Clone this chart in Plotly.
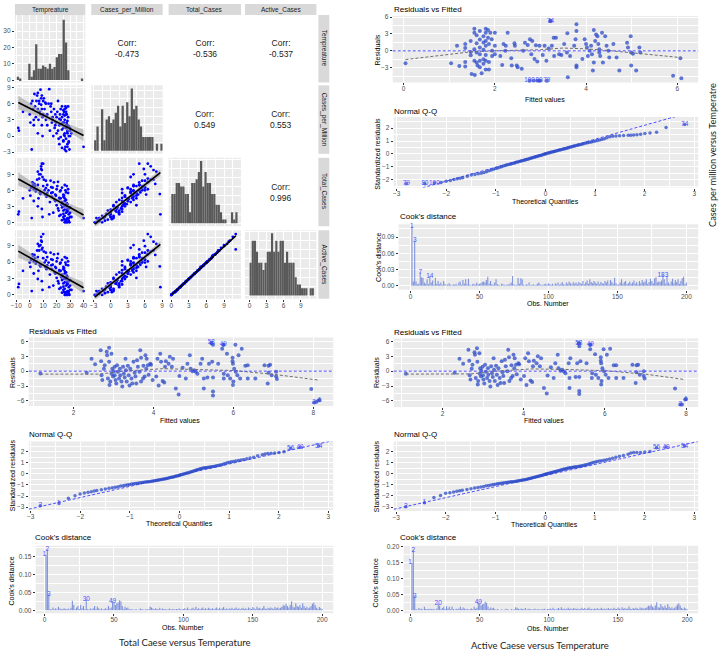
import numpy as np
import plotly.graph_objects as go

W, H = 723, 653
SANS = "Liberation Sans, Arial, sans-serif"
CAPF = "Lato, Open Sans, sans-serif"

# ---------------- pairs plot data ----------------
pair_vars = ["Tempreature", "Cases_per_Million", "Total_Cases", "Active_Cases"]
temperature = [
    2.0, 5.5, 6.0, 8.5, 9.0, 10.0, 7.0, 4.0, 3.5, 1.0,
    0.0, 2.5, 5.0, 7.5, 9.5, 11.0, 12.0, 6.5, 8.0, 10.5,
    -8.0, -8.5, -5.0, 0.5, 3.0, 6.0, 9.0, 13.0, 15.5, 17.0,
    14.0, 16.0, 18.0, 19.5, 20.0, 21.0, 22.5, 15.0, 17.5, 19.0,
    24.0, 25.5, 26.0, 27.0, 28.0, 29.0, 25.0, 26.5, 27.5, 28.5,
    24.5, 25.0, 26.0, 27.0, 28.0, 29.5, 30.0, 26.0, 27.0, 28.0,
    23.0, 24.0, 25.0, 26.5, 27.0, 28.0, 29.0, 30.0, 25.5, 26.0,
    27.0, 28.0, 29.0, 26.0, 25.0, 24.0, 23.5, 22.0, 28.0, 27.0,
    3.0, 4.5, 6.0, 7.0, 9.0, 10.0, 8.0, 8.5, 11.5, 12.5,
    18.5, 20.0, 21.5, 22.0, 23.0, 19.0, 17.0, 16.5, 20.5, 22.0,
    26.0, 27.5, 28.0, 29.0, 30.0, 25.0, 24.0, 28.5, 40.0, 31.0,
    1.5, 13.0, 14.5, 16.0, 12.0, 9.5, 21.0, 23.0, 25.5, 27.0]
cases_per_million = [
    6.5, 7.5, 8.0, 7.0, 5.0, 6.5, 6.0, 5.5, 7.8, 6.0,
    4.0, 5.0, 6.5, 4.5, 3.5, 5.0, 6.0, 3.0, 4.0, 7.0,
    1.0, 1.5, 4.5, 2.5, 3.0, 0.5, 2.0, 4.0, 5.5, 3.0,
    6.0, 4.5, 5.0, 2.5, 3.5, 6.5, 4.0, 1.0, 0.0, 2.0,
    5.5, 4.5, 3.0, 2.0, 1.0, 0.0, -1.0, -2.0, 4.0, 3.5,
    2.5, 1.5, 0.5, -0.5, -1.5, -2.5, 1.0, 5.0, 4.5, 2.0,
    3.0, 3.5, 4.0, 5.5, 1.5, 0.5, -1.0, 0.0, 2.5, -2.5,
    4.0, 2.8, 1.8, 0.0, -0.8, 1.2, 2.2, 3.2, -2.0, 5.2,
    2.0, 3.5, 5.0, 6.5, 7.5, 4.0, 8.6, 5.8, 6.2, 3.8,
    1.5, 0.5, -0.5, 2.0, 5.0, 4.0, 3.5, 2.5, 4.5, -1.5,
    3.8, 2.4, 0.8, -1.2, 1.4, 4.8, -2.2, 5.5, -2.0, 0.5,
    -2.5, 2.0, 8.7, 6.0, 3.0, 0.0, 1.0, -0.2, 0.2, -2.8]
total_cases = [
    7.5, 8.0, 9.5, 10.5, 11.0, 11.0, 9.0, 6.8, 7.2, 6.5,
    6.0, 7.0, 6.2, 5.5, 8.5, 6.0, 7.8, 4.5, 9.0, 8.0,
    2.0, 1.5, 4.5, 5.0, 4.0, 3.0, 2.5, 7.0, 7.8, 6.5,
    6.0, 5.5, 7.5, 5.0, 6.2, 7.6, 5.8, 3.8, 1.8, 4.0,
    6.5, 5.0, 4.0, 3.0, 2.5, 1.5, 1.0, 0.2, 6.8, 5.5,
    3.5, 2.2, 1.2, 0.5, 0.0, 0.0, 2.8, 7.0, 3.2, 2.0,
    4.5, 3.8, 4.8, 6.0, 1.8, 0.8, 0.3, 1.0, 3.0, 0.0,
    4.2, 3.4, 2.6, 2.4, 1.6, 2.8, 3.3, 4.4, 0.6, 5.6,
    6.2, 5.8, 7.0, 8.2, 9.8, 6.8, 5.3, 10.0, 5.2, 4.8,
    4.2, 3.2, 2.2, 4.6, 6.0, 5.2, 5.6, 4.8, 6.8, 1.2,
    4.5, 3.6, 2.2, 0.8, 1.8, 5.2, 0.4, 6.2, 0.8, 1.0,
    0.8, 5.5, 1.5, 6.6, 6.4, 1.0, 2.6, 1.4, 0.6, 0.0]
active_cases = [
    7.4, 8.1, 9.3, 10.6, 8.3, 11.1, 8.9, 6.7, 7.3, 6.4,
    5.9, 7.1, 6.1, 5.4, 8.6, 5.9, 7.7, 4.4, 9.1, 7.9,
    2.0, 1.4, 4.4, 5.1, 3.9, 2.9, 2.5, 6.9, 7.7, 6.4,
    5.9, 5.4, 7.4, 4.9, 6.1, 7.5, 5.7, 3.7, 1.7, 3.9,
    6.4, 4.9, 3.9, 2.9, 2.4, 1.4, 0.9, 0.2, 6.7, 5.4,
    3.4, 2.1, 1.1, 0.5, 0.0, 0.0, 2.7, 6.9, 3.1, 1.9,
    4.4, 3.7, 4.7, 5.9, 1.7, 0.7, 0.3, 0.9, 2.9, 0.0,
    4.1, 3.3, 2.5, 2.3, 1.5, 2.7, 3.2, 4.3, 0.5, 5.5,
    6.1, 5.7, 6.9, 8.1, 9.7, 6.7, 5.2, 9.9, 5.1, 4.7,
    4.1, 3.1, 2.1, 4.5, 5.9, 5.1, 5.5, 4.7, 6.7, 1.1,
    4.4, 3.5, 2.1, 0.7, 1.7, 5.1, 0.4, 6.1, 0.7, 0.9,
    0.7, 5.4, 1.4, 6.5, 6.3, 0.9, 2.5, 1.3, 0.5, 0.0]
corr_cells = [(0, 1), (0, 2), (0, 3), (1, 2), (1, 3), (2, 3)]
corr_labels = ["-0.473", "-0.536", "-0.537", "0.549", "0.553", "0.996"]

temp_bin_centers = [-8.75, -7.05, -5.35, -3.65, -1.95, -0.25, 1.45, 3.15, 4.85, 6.55,
                    8.25, 9.95, 11.65, 13.35, 15.05, 16.75, 18.45, 20.15, 21.85, 23.55,
                    25.25, 26.95, 28.65, 30.35, 32.05, 33.75, 35.45, 37.15, 38.85]
temp_bin_counts = [2, 1, 0, 0, 0, 10, 2, 6, 22, 7, 7, 9, 8, 7, 10, 7, 8, 14, 16, 16,
                   37, 23, 6, 0, 0, 0, 0, 0, 1]
cpm_bin_centers = [-2.7, -2.3, -1.9, -1.5, -1.1, -0.7, -0.3, 0.1, 0.5, 0.9, 1.3, 1.7, 2.1, 2.5, 2.9,
                   3.3, 3.7, 4.1, 4.5, 4.9, 5.3, 5.7, 6.1, 6.5, 6.9, 7.3, 7.7, 8.1, 8.5, 8.9]
cpm_bin_counts = [3, 7, 0, 12, 3, 9, 10, 8, 9, 11, 13, 7, 13, 8, 14, 10, 18, 12, 13, 9,
                  7, 4, 4, 4, 4, 4, 0, 2, 0, 2]
cases_bin_centers = [0.19, 0.57, 0.94, 1.32, 1.70, 2.07, 2.45, 2.83, 3.21, 3.58, 3.96, 4.34,
                     4.71, 5.09, 5.47, 5.85, 6.22, 6.60, 6.98, 7.35, 7.73, 8.11, 8.48, 8.86,
                     9.24, 9.62, 9.99, 10.37, 10.75, 11.12]
total_bin_counts = [8, 8, 11, 11, 10, 10, 8, 8, 3, 11, 11, 12, 14, 17, 10, 14, 11, 11, 8, 8,
                    5, 5, 3, 1, 1, 0, 0, 3, 1, 3]
active_bin_counts = [9, 15, 15, 12, 9, 9, 7, 9, 12, 12, 17, 12, 15, 12, 15, 15, 9, 12, 9, 9,
                     9, 5, 3, 3, 2, 2, 2, 0, 2, 2]
bin_widths = [1.7, 0.4, 0.377, 0.377]

pair_ticks = [[-10, 0, 10, 20, 30, 40], [-3, 0, 3, 6, 9], [0, 3, 6, 9], [0, 3, 6, 9]]
hist_row1_ticks = [0, 10, 20, 30]

# ---------------- regression diagnostics data ----------------
# Cases per million ~ Temperature
fitted_cpm = [
    0.04, 1.04, 1.17, 1.22, 1.35, 1.35, 1.35, 1.35, 1.47, 1.47,
    1.47, 1.49, 1.55, 1.55, 1.55, 1.55, 1.56, 1.60, 1.60, 1.60,
    1.60, 1.62, 1.67, 1.67, 1.67, 1.67, 1.67, 1.67, 1.71, 1.75,
    1.75, 1.75, 1.75, 1.75, 1.80, 1.80, 1.80, 1.80, 1.80, 1.80,
    1.80, 1.85, 1.85, 1.87, 1.87, 1.87, 1.90, 1.93, 1.94, 1.94,
    2.00, 2.00, 2.00, 2.12, 2.16, 2.19, 2.23, 2.24, 2.28, 2.36,
    2.37, 2.43, 2.44, 2.48, 2.50, 2.59, 2.62, 2.66, 2.72, 2.77,
    2.80, 2.82, 2.87, 2.90, 2.93, 2.98, 3.05, 3.09, 3.13, 3.18,
    3.25, 3.29, 3.34, 3.30, 3.41, 3.46, 3.52, 3.58, 3.59, 3.60,
    3.65, 3.74, 3.77, 3.79, 3.79, 3.79, 3.79, 3.92, 3.97, 4.00,
    4.02, 4.04, 4.08, 4.11, 4.13, 4.15, 4.17, 4.17, 4.20, 4.22,
    4.25, 4.27, 4.29, 4.29, 4.31, 4.35, 4.37, 4.42, 4.45, 4.49,
    4.51, 4.60, 4.67, 4.73, 4.90, 4.92, 4.98, 4.99, 4.99, 5.03,
    5.10, 5.17, 5.19, 5.91, 6.07, 6.09, 3.22, 2.85, 2.93, 3.00]
resid_cpm = [
    -2.2, -2.2, 0.9, -2.7, 1.2, 0.5, -2.0, -2.8, 1.75, -0.2,
    -0.8, -4.1, 3.9, 3.2, 0.3, -1.75, -4.3, 2.75, 1.35, -0.3,
    -2.05, -2.6, 3.5, 2.0, 0.6, -0.6, -1.75, -2.9, -4.0, 2.6,
    1.5, 0.2, -1.5, -2.3, 3.9, 3.2, 1.75, 0.9, -0.75, -1.75,
    -3.3, 3.7, 2.3, 1.2, -2.0, -3.3, 3.2, 2.05, 0.0, -0.9,
    3.2, 0.9, -0.6, -0.9, -2.5, 1.2, 0.0, 0.9, 3.2, -1.3,
    -2.6, 1.35, 0.9, -2.6, -2.9, -3.2, 0.0, 1.45, 1.05, 2.05,
    -0.6, 1.75, -1.45, 1.0, -1.9, 0.9, -0.75, 0.9, -1.75, 0.4,
    0.9, 2.3, 2.3, -0.9, -0.6, -0.75, 1.2, -0.3, 3.1, -4.7,
    -0.9, 0.9, 2.05, 4.7, 3.5, -2.6, -2.9, -1.45, 2.05, 1.2,
    0.6, -0.9, 0.0, 0.9, -0.6, -3.5, 3.7, -2.05, 1.75, 2.9,
    2.6, 1.2, 0.3, -0.3, -0.9, 3.2, -2.05, 2.6, 0.9, 0.0,
    -1.2, 1.2, -1.2, -3.5, 1.45, 0.6, 2.6, -0.3, -2.6, -0.5,
    -3.5, 0.6, -0.3, -4.4, -1.3, -4.85, 5.3, -5.3, -5.3, -5.3]
smooth_cpm_x = [0.04, 0.5, 1.0, 1.5, 2.0, 2.5, 3.0, 3.5, 4.0, 4.5, 5.0, 5.5, 6.09]
smooth_cpm_y = [-1.55, -1.1, -0.6, -0.15, 0.0, 0.05, 0.2, 0.5, 0.35, 0.05, -0.35, -0.75, -1.2]
label_cpm_x = [3.22, 2.76, 2.97, 3.14]
label_cpm_y = [5.3, -5.3, -5.3, -5.3]
label_cpm_text = ["74", "190", "80", "79"]

# Total cases ~ Temperature
fitted_total = [
    1.17, 2.33, 2.45, 2.54, 2.68, 2.69, 2.70, 2.72, 2.76, 2.78,
    2.83, 2.84, 2.86, 2.89, 2.89, 2.90, 2.92, 2.95, 2.95, 2.97,
    2.99, 3.00, 3.03, 3.03, 3.05, 3.07, 3.09, 3.11, 3.14, 3.16,
    3.17, 3.20, 3.22, 3.24, 3.26, 3.28, 3.30, 3.31, 3.33, 3.36,
    3.38, 3.40, 3.42, 3.45, 3.47, 3.50, 3.53, 3.55, 3.57, 3.59,
    3.61, 3.65, 3.67, 3.69, 3.69, 3.74, 3.75, 3.78, 3.80, 3.82,
    3.83, 3.86, 3.88, 3.92, 3.94, 3.98, 4.07, 4.10, 4.13, 4.17,
    4.19, 4.23, 4.27, 4.29, 4.31, 4.38, 4.41, 4.46, 4.49, 4.56,
    4.63, 4.65, 4.73, 4.81, 4.85, 4.91, 4.93, 4.98, 5.02, 5.06,
    5.10, 5.18, 5.22, 5.26, 5.26, 5.35, 5.39, 5.47, 5.49, 5.49,
    5.49, 5.62, 5.72, 5.76, 5.76, 5.84, 5.86, 5.92, 5.98, 5.98,
    5.99, 5.99, 6.00, 6.02, 6.05, 6.06, 6.10, 6.13, 6.17, 6.21,
    6.30, 6.36, 6.36, 6.55, 6.78, 6.86, 6.88, 6.88, 6.92, 6.96,
    7.07, 7.07, 7.09, 7.95, 8.07, 8.13, 5.45, 5.49, 5.75]
resid_total = [
    -0.45, -0.3, 2.5, 1.4, 4.2, 2.0, -0.8, -1.8, 0.5, 1.2,
    3.9, 3.2, -1.5, 4.7, 1.9, -2.8, -2.1, 3.5, -0.5, 0.5,
    -1.1, 0.0, 0.9, -0.8, -1.8, -2.5, 1.2, -0.1, -1.5, 0.5,
    -0.8, -2.1, -3.1, 0.9, -0.5, -1.3, 2.5, 0.2, -2.1, 1.1,
    -0.8, -2.9, 0.5, -1.5, -2.5, 1.9, -0.3, -1.1, -2.5, 2.2,
    0.9, -0.1, 4.2, 2.7, -2.1, -1.5, 1.1, -1.1, 3.2, 0.5,
    2.5, 1.2, -0.7, 1.5, 1.3, -1.8, -1.1, 2.5, -2.9, 3.5,
    1.9, -2.0, -2.3, 0.9, 2.0, 1.5, 2.9, 0.9, 2.5, -3.5,
    -4.7, -1.0, 0.7, -1.5, 1.5, 3.2, 0.5, 0.0, 0.2, -0.1,
    -0.5, 1.5, 2.5, -1.5, -3.5, -1.3, 1.5, 1.9, -1.3, -4.1,
    -4.9, 1.5, 4.5, -1.5, -0.5, 3.5, -0.8, -1.5, 2.7, 2.0,
    1.5, -2.8, -2.1, 0.5, 5.3, -0.1, -0.8, 3.2, -1.5, 4.5,
    1.1, 1.2, -1.5, -1.5, 1.2, -2.5, 1.1, -0.3, 1.3, -0.8,
    -0.1, -1.1, -1.6, -3.6, -6.2, -5.9, 5.7, 5.3, 5.3]
smooth_total_x = [1.17, 2.0, 2.66, 3.24, 4.23, 5.05, 6.0, 7.04, 8.13]
smooth_total_y = [-0.6, -0.6, -0.6, 0.0, 0.5, 0.33, 0.13, -0.67, -1.8]
label_total_x = [5.45, 5.75, 8.02, 8.16]
label_total_y = [5.7, 5.3, -6.3, -5.8]
label_total_text = ["58", "49", "2", "1"]

# Active cases ~ Temperature
fitted_active = [
    1.10, 2.30, 2.42, 2.51, 2.64, 2.66, 2.67, 2.69, 2.72, 2.74,
    2.79, 2.80, 2.82, 2.85, 2.86, 2.87, 2.88, 2.91, 2.92, 2.93,
    2.95, 2.96, 2.99, 3.00, 3.01, 3.03, 3.05, 3.07, 3.10, 3.12,
    3.13, 3.16, 3.18, 3.20, 3.22, 3.24, 3.26, 3.27, 3.29, 3.32,
    3.34, 3.36, 3.38, 3.41, 3.43, 3.46, 3.48, 3.50, 3.52, 3.54,
    3.56, 3.60, 3.62, 3.64, 3.65, 3.69, 3.70, 3.73, 3.75, 3.77,
    3.78, 3.81, 3.83, 3.87, 3.89, 3.93, 4.01, 4.04, 4.07, 4.11,
    4.13, 4.17, 4.21, 4.23, 4.25, 4.32, 4.35, 4.40, 4.43, 4.50,
    4.57, 4.59, 4.67, 4.74, 4.78, 4.84, 4.86, 4.91, 4.95, 4.99,
    5.03, 5.11, 5.15, 5.13, 5.13, 5.28, 5.32, 5.40, 5.37, 5.37,
    5.37, 5.55, 5.64, 5.68, 5.69, 5.76, 5.78, 5.84, 5.90, 5.90,
    5.91, 5.91, 5.92, 5.94, 5.97, 5.98, 6.02, 6.05, 6.09, 6.13,
    6.22, 6.28, 6.28, 6.46, 6.68, 6.76, 6.78, 6.78, 6.82, 6.86,
    6.96, 6.96, 6.98, 7.73, 7.90, 7.98, 5.36, 5.37, 5.64]
resid_active = [
    -0.5, -0.3, 2.5, 1.5, 4.3, 2.1, -0.8, -1.7, 0.5, 1.3,
    3.8, 3.3, -1.4, 4.6, 1.9, -2.7, -2.0, 3.6, -0.5, 0.6,
    -1.1, 0.1, 0.9, -0.8, -1.7, -2.5, 1.3, -0.1, -1.4, 0.6,
    -0.7, -2.0, -3.1, 1.0, -0.4, -1.2, 2.6, 0.3, -2.0, 1.1,
    -0.7, -2.8, 0.6, -1.4, -2.4, 2.0, -0.2, -1.0, -2.4, 2.3,
    1.0, 0.0, 4.3, 2.8, -2.0, -1.4, 1.2, -1.0, 3.3, 0.6,
    2.6, 1.3, -0.6, 1.6, 1.4, -1.7, -1.0, 2.6, -2.8, 3.6,
    2.0, -1.9, -2.2, 1.0, 2.1, 1.6, 3.0, 1.0, 2.6, -3.4,
    -4.5, -0.9, 0.8, -1.4, 1.6, 3.3, 0.6, 0.1, 0.3, 0.0,
    -0.4, 1.6, 2.6, -1.4, -3.4, -1.2, 1.6, 2.0, -1.2, -4.0,
    -4.6, 1.6, 4.4, -1.4, -0.4, 3.4, -0.7, -1.4, 2.8, 2.1,
    1.6, -2.7, -2.0, 0.6, 4.4, 0.0, -0.7, 3.3, -1.4, 4.5,
    1.2, 1.2, -1.4, -1.4, 1.3, -2.4, 1.2, -0.2, 1.3, -0.7,
    0.0, -1.0, -1.5, -3.5, -6.7, -5.7, 5.6, 5.0, 5.3]
smooth_active_x = [1.10, 2.0, 2.7, 3.3, 4.2, 5.0, 6.0, 7.0, 7.98]
smooth_active_y = [-0.6, -0.6, -0.55, 0.0, 0.45, 0.35, 0.1, -0.6, -1.7]
label_active_x = [5.36, 5.64, 7.86, 8.0]
label_active_y = [5.6, 5.3, -6.7, -5.6]
label_active_text = ["58", "49", "2", "1"]

# Normal Q-Q (theoretical quantiles shared, sample values per model)
qq_theoretical = [
    -2.807, -2.432, -2.241, -2.108, -2.005, -1.919, -1.845, -1.780, -1.722, -1.669,
    -1.576, -1.495, -1.422, -1.356, -1.296, -1.240, -1.188, -1.138, -1.092, -1.047,
    -1.005, -0.964, -0.925, -0.887, -0.851, -0.815, -0.781, -0.747, -0.714, -0.682,
    -0.651, -0.620, -0.590, -0.561, -0.532, -0.503, -0.475, -0.447, -0.420, -0.392,
    -0.366, -0.339, -0.312, -0.286, -0.260, -0.234, -0.208, -0.183, -0.157, -0.132,
    -0.107, -0.082, -0.056, -0.031, -0.006,
    0.006, 0.031, 0.056, 0.082, 0.107, 0.132, 0.157, 0.183, 0.208, 0.234,
    0.260, 0.286, 0.312, 0.339, 0.366, 0.392, 0.420, 0.447, 0.475, 0.503,
    0.532, 0.561, 0.590, 0.620, 0.651, 0.682, 0.714, 0.747, 0.781, 0.815,
    0.851, 0.887, 0.925, 0.964, 1.005, 1.047, 1.092, 1.138, 1.188, 1.240,
    1.296, 1.356, 1.422, 1.495, 1.576, 1.669, 1.722, 1.780, 1.845, 1.919,
    2.005, 2.108, 2.241, 2.432, 2.807]
qq_cpm = [
    -2.3, -2.3, -2.25, -2.2, -2.12, -2.05, -1.98, -1.92, -1.88, -1.84,
    -1.72, -1.62, -1.58, -1.54, -1.5, -1.44, -1.38, -1.3, -1.24, -1.18,
    -1.13, -1.08, -1.03, -0.98, -0.94, -0.9, -0.86, -0.82, -0.79, -0.76,
    -0.72, -0.69, -0.65, -0.62, -0.59, -0.56, -0.53, -0.5, -0.47, -0.44,
    -0.41, -0.38, -0.35, -0.32, -0.29, -0.26, -0.23, -0.2, -0.17, -0.14,
    -0.12, -0.09, -0.06, -0.03, 0.0,
    0.02, 0.05, 0.08, 0.1, 0.13, 0.15, 0.18, 0.2, 0.23, 0.25,
    0.28, 0.3, 0.33, 0.36, 0.38, 0.41, 0.44, 0.47, 0.5, 0.53,
    0.56, 0.59, 0.62, 0.65, 0.68, 0.71, 0.74, 0.77, 0.8, 0.84,
    0.87, 0.9, 0.93, 0.97, 1.0, 1.04, 1.08, 1.12, 1.18, 1.26,
    1.33, 1.37, 1.38, 1.4, 1.42, 1.44, 1.45, 1.47, 1.49, 1.53,
    1.58, 1.63, 1.68, 2.05, 2.28]
qq_total = [
    -2.87, -2.63, -2.19, -1.97, -1.82, -1.72, -1.66, -1.6, -1.55, -1.5,
    -1.42, -1.36, -1.3, -1.25, -1.2, -1.15, -1.1, -1.06, -1.02, -0.98,
    -0.95, -0.92, -0.89, -0.87, -0.85, -0.83, -0.8, -0.78, -0.76, -0.74,
    -0.72, -0.7, -0.68, -0.66, -0.64, -0.62, -0.6, -0.58, -0.56, -0.54,
    -0.51, -0.49, -0.46, -0.44, -0.41, -0.39, -0.36, -0.33, -0.3, -0.28,
    -0.25, -0.22, -0.2, -0.17, -0.14,
    -0.11, -0.08, -0.05, -0.02, 0.02, 0.05, 0.08, 0.11, 0.15, 0.18,
    0.22, 0.26, 0.3, 0.34, 0.38, 0.42, 0.45, 0.49, 0.52, 0.54,
    0.56, 0.58, 0.6, 0.62, 0.64, 0.66, 0.69, 0.72, 0.75, 0.79,
    0.83, 0.88, 0.94, 1.0, 1.05, 1.08, 1.12, 1.16, 1.2, 1.25,
    1.3, 1.36, 1.42, 1.5, 1.62, 1.72, 1.78, 1.82, 1.85, 1.88,
    1.92, 1.98, 2.3, 2.4, 2.5]
qq_active = [
    -2.97, -2.6, -2.13, -1.95, -1.75, -1.7, -1.64, -1.58, -1.53, -1.49,
    -1.41, -1.35, -1.29, -1.24, -1.19, -1.14, -1.09, -1.05, -1.01, -0.97,
    -0.94, -0.91, -0.88, -0.86, -0.84, -0.82, -0.79, -0.77, -0.75, -0.73,
    -0.71, -0.69, -0.67, -0.65, -0.63, -0.61, -0.59, -0.57, -0.55, -0.52,
    -0.49, -0.46, -0.43, -0.4, -0.37, -0.34, -0.31, -0.28, -0.25, -0.22,
    -0.19, -0.16, -0.13, -0.1, -0.07,
    -0.04, -0.01, 0.02, 0.05, 0.08, 0.11, 0.14, 0.17, 0.2, 0.23,
    0.26, 0.3, 0.33, 0.36, 0.4, 0.43, 0.46, 0.5, 0.52, 0.54,
    0.56, 0.58, 0.6, 0.62, 0.64, 0.67, 0.7, 0.73, 0.76, 0.8,
    0.84, 0.89, 0.95, 1.01, 1.06, 1.1, 1.14, 1.18, 1.22, 1.27,
    1.33, 1.4, 1.48, 1.58, 1.65, 1.75, 1.87, 1.9, 1.9, 1.92,
    1.95, 2.0, 2.33, 2.4, 2.5]
qq_line_cpm = (1.08, 0.06)      # slope, intercept
qq_line_total = (1.005, -0.12)
qq_line_active = (0.995, -0.16)
qq_label_idx_cpm = [0, 1, 2, 109]
qq_label_text_cpm = ["79", "80", "190", "74"]
qq_label_idx_total = [0, 1, 107, 108, 109]
qq_label_text_total = ["2", "1", "56", "49", "54"]

# Cook's distance, observations 1..200
obs_number = list(range(1, 201))
cook_cpm = [
    0.110, 0.008, 0.083, 0.008, 0.003, 0.004, 0.025, 0.016, 0.015, 0.006, 0.004, 0.012, 0.003, 0.018, 0.006, 0.010, 0.002, 0.015, 0.004, 0.009,
    0.003, 0.006, 0.002, 0.009, 0.004, 0.001, 0.003, 0.005, 0.002, 0.001, 0.003, 0.002, 0.004, 0.001, 0.006, 0.008, 0.002, 0.011, 0.004, 0.012,
    0.003, 0.013, 0.002, 0.001, 0.003, 0.004, 0.002, 0.006, 0.003, 0.004, 0.005, 0.007, 0.008, 0.006, 0.011, 0.017, 0.004, 0.009, 0.003, 0.002,
    0.006, 0.012, 0.003, 0.002, 0.001, 0.004, 0.003, 0.002, 0.001, 0.003, 0.002, 0.004, 0.006, 0.018, 0.003, 0.001, 0.002, 0.015, 0.004, 0.014,
    0.012, 0.002, 0.001, 0.003, 0.002, 0.006, 0.001, 0.002, 0.003, 0.001, 0.002, 0.004, 0.006, 0.003, 0.001, 0.002, 0.003, 0.004, 0.002, 0.005,
    0.003, 0.002, 0.004, 0.001, 0.005, 0.003, 0.006, 0.002, 0.004, 0.007, 0.003, 0.002, 0.006, 0.004, 0.008, 0.005, 0.003, 0.007, 0.004, 0.006,
    0.003, 0.007, 0.005, 0.004, 0.009, 0.003, 0.006, 0.010, 0.004, 0.012, 0.007, 0.005, 0.009, 0.006, 0.004, 0.008, 0.003, 0.007, 0.005, 0.004,
    0.009, 0.006, 0.010, 0.003, 0.011, 0.007, 0.004, 0.015, 0.005, 0.002, 0.003, 0.006, 0.012, 0.004, 0.007, 0.009, 0.003, 0.005, 0.008, 0.004,
    0.006, 0.010, 0.004, 0.007, 0.003, 0.009, 0.005, 0.011, 0.006, 0.008, 0.012, 0.004, 0.007, 0.013, 0.009, 0.005, 0.014, 0.016, 0.006, 0.008,
    0.007, 0.010, 0.020, 0.012, 0.004, 0.018, 0.006, 0.003, 0.008, 0.013, 0.005, 0.011, 0.007, 0.012, 0.004, 0.009, 0.014, 0.017, 0.003, 0.006]
cook_total = [
    0.155, 0.170, 0.045, 0.004, 0.002, 0.008, 0.003, 0.006, 0.002, 0.010, 0.005, 0.004, 0.003, 0.006, 0.004, 0.003, 0.005, 0.002, 0.007, 0.027,
    0.015, 0.003, 0.008, 0.012, 0.004, 0.015, 0.006, 0.012, 0.003, 0.030, 0.004, 0.002, 0.005, 0.003, 0.006, 0.012, 0.004, 0.010, 0.006, 0.003,
    0.005, 0.002, 0.004, 0.006, 0.003, 0.012, 0.005, 0.008, 0.025, 0.022, 0.015, 0.020, 0.022, 0.028, 0.025, 0.012, 0.004, 0.010, 0.006, 0.008,
    0.003, 0.002, 0.004, 0.001, 0.002, 0.003, 0.001, 0.002, 0.005, 0.003, 0.002, 0.001, 0.004, 0.002, 0.003, 0.010, 0.008, 0.005, 0.003, 0.006,
    0.004, 0.003, 0.007, 0.002, 0.005, 0.003, 0.004, 0.002, 0.003, 0.005, 0.002, 0.004, 0.003, 0.002, 0.004, 0.003, 0.005, 0.002, 0.003, 0.004,
    0.006, 0.003, 0.008, 0.004, 0.002, 0.005, 0.007, 0.003, 0.010, 0.004, 0.006, 0.003, 0.005, 0.008, 0.004, 0.006, 0.003, 0.007, 0.005, 0.004,
    0.006, 0.003, 0.005, 0.008, 0.004, 0.007, 0.003, 0.006, 0.009, 0.004, 0.005, 0.003, 0.006, 0.004, 0.007, 0.003, 0.005, 0.008, 0.004, 0.006,
    0.003, 0.005, 0.007, 0.004, 0.006, 0.003, 0.008, 0.005, 0.004, 0.009, 0.006, 0.003, 0.010, 0.005, 0.007, 0.004, 0.006, 0.012, 0.005, 0.004,
    0.007, 0.005, 0.008, 0.006, 0.004, 0.009, 0.006, 0.008, 0.005, 0.007, 0.010, 0.014, 0.013, 0.018, 0.012, 0.008, 0.015, 0.025, 0.010, 0.008,
    0.020, 0.012, 0.009, 0.015, 0.007, 0.020, 0.011, 0.006, 0.010, 0.005, 0.008, 0.012, 0.018, 0.022, 0.014, 0.007, 0.004, 0.009, 0.006, 0.003]
cook_active = [
    0.150, 0.190, 0.045, 0.004, 0.002, 0.007, 0.003, 0.005, 0.002, 0.011, 0.004, 0.004, 0.003, 0.005, 0.004, 0.003, 0.005, 0.002, 0.006, 0.022,
    0.014, 0.003, 0.007, 0.011, 0.004, 0.013, 0.006, 0.011, 0.003, 0.012, 0.004, 0.002, 0.005, 0.003, 0.006, 0.011, 0.004, 0.009, 0.006, 0.003,
    0.005, 0.002, 0.004, 0.006, 0.003, 0.011, 0.005, 0.008, 0.025, 0.021, 0.015, 0.019, 0.021, 0.027, 0.024, 0.012, 0.004, 0.009, 0.006, 0.008,
    0.003, 0.002, 0.004, 0.001, 0.002, 0.003, 0.001, 0.002, 0.005, 0.003, 0.002, 0.001, 0.004, 0.002, 0.003, 0.010, 0.008, 0.005, 0.003, 0.006,
    0.004, 0.003, 0.007, 0.002, 0.005, 0.003, 0.004, 0.002, 0.003, 0.005, 0.002, 0.004, 0.003, 0.002, 0.004, 0.003, 0.005, 0.002, 0.003, 0.004,
    0.006, 0.003, 0.008, 0.004, 0.002, 0.005, 0.007, 0.003, 0.010, 0.004, 0.006, 0.003, 0.005, 0.008, 0.004, 0.006, 0.003, 0.007, 0.005, 0.004,
    0.006, 0.003, 0.005, 0.008, 0.004, 0.007, 0.003, 0.006, 0.009, 0.004, 0.005, 0.003, 0.006, 0.004, 0.007, 0.003, 0.005, 0.008, 0.004, 0.006,
    0.003, 0.005, 0.007, 0.004, 0.006, 0.003, 0.008, 0.005, 0.004, 0.009, 0.006, 0.003, 0.010, 0.005, 0.007, 0.004, 0.006, 0.012, 0.005, 0.004,
    0.007, 0.005, 0.008, 0.006, 0.004, 0.009, 0.006, 0.008, 0.005, 0.007, 0.010, 0.014, 0.013, 0.018, 0.012, 0.008, 0.015, 0.025, 0.010, 0.008,
    0.020, 0.012, 0.009, 0.015, 0.007, 0.020, 0.011, 0.006, 0.010, 0.005, 0.008, 0.012, 0.018, 0.022, 0.014, 0.007, 0.004, 0.009, 0.006, 0.003]
cook_labels_cpm = [1, 3, 7, 14, 183]
cook_labels_total = [1, 2, 3, 30, 49]
cook_labels_active = [1, 2, 3, 20, 49]

for a, b in [(fitted_cpm, resid_cpm), (fitted_total, resid_total), (fitted_active, resid_active),
             (qq_theoretical, qq_cpm), (qq_theoretical, qq_total), (qq_theoretical, qq_active),
             (obs_number, cook_cpm), (obs_number, cook_total), (obs_number, cook_active),
             (temperature, cases_per_million), (temperature, total_cases), (temperature, active_cases)]:
    assert len(a) == len(b), (len(a), len(b))

# ---------------- helpers ----------------
fig = go.Figure()
layout = {}
shapes = []
annotations = []
counter = [0]

PT = "rgba(45,75,200,0.75)"
LAB = "#5050FF"
BLUE_LINE = "#4D4DFF"
COOK = "rgba(100,125,215,0.8)"
SHORT_DASH = "3px,2px"


def X(px):
    return px / W


def Y(py):
    return 1 - py / H


def minor_vals(ticks, rng):
    step = ticks[1] - ticks[0]
    cand = [ticks[0] - step / 2] + [t + step / 2 for t in ticks]
    lo, hi = min(rng), max(rng)
    return [v for v in cand if lo < v < hi]


def add_panel(box, xr, yr, xt, yt, xlab=True, ylab=True, bg="#EBEBEB",
              grid="#FFFFFF", mgrid="#FFFFFF", xtext=None, ytext=None):
    counter[0] += 1
    n = counter[0]
    s = "" if n == 1 else str(n)
    x0, x1, y0, y1 = box

    def ax(rng, ticks, show, dom, anchor, texts, is_x):
        d = dict(domain=dom, range=rng, anchor=anchor, tickmode="array", tickvals=ticks,
                 showticklabels=show, ticks="outside" if show else "", ticklen=2,
                 tickwidth=0.6, tickcolor="#333333",
                 tickfont=dict(family=SANS, size=6.5, color="#4D4D4D"),
                 showgrid=True, gridcolor=grid, gridwidth=0.9, zeroline=False,
                 showline=False, fixedrange=True,
                 minor=dict(tickmode="array", tickvals=minor_vals(ticks, rng),
                            showgrid=True, gridcolor=mgrid, gridwidth=0.4, ticks=""))
        if is_x:
            d["ticklabelstandoff"] = -2
        if texts is not None:
            d["ticktext"] = texts
        return d

    layout["xaxis" + s] = ax(xr, xt, xlab, [X(x0), X(x1)], "y" + s, xtext, True)
    layout["yaxis" + s] = ax(yr, yt, ylab, [Y(y1), Y(y0)], "x" + s, ytext, False)
    shapes.append(dict(type="rect", xref="x" + s + " domain", yref="y" + s + " domain",
                       x0=0, x1=1, y0=0, y1=1, fillcolor=bg, line=dict(width=0), layer="below"))
    return "x" + s, "y" + s


def add(trace, xa, ya):
    trace.update(xaxis=xa, yaxis=ya, showlegend=False, hoverinfo="skip")
    fig.add_trace(trace)


def note(text, px, py, size=7.0, color="#000000", angle=0, xanchor="center", family=SANS):
    annotations.append(dict(text=text, x=X(px), y=Y(py), xref="paper", yref="paper",
                            showarrow=False, textangle=angle, xanchor=xanchor,
                            yanchor="middle", font=dict(family=family, size=size, color=color)))


def fit_band(x, y):
    x = np.asarray(x, float)
    y = np.asarray(y, float)
    b, a = np.polyfit(x, y, 1)
    xs = np.linspace(x.min(), x.max(), 60)
    yh = a + b * xs
    res = y - (a + b * x)
    n = len(x)
    s = np.sqrt(np.sum(res ** 2) / (n - 2))
    se = s * np.sqrt(1 / n + (xs - x.mean()) ** 2 / np.sum((x - x.mean()) ** 2))
    return xs, yh, yh - 1.98 * se, yh + 1.98 * se


# ---------------- pairs matrix ----------------
pair_data = [temperature, cases_per_million, total_cases, active_cases]
hist_centers = [temp_bin_centers, cpm_bin_centers, cases_bin_centers, cases_bin_centers]
hist_counts = [temp_bin_counts, cpm_bin_counts, total_bin_counts, active_bin_counts]
cols_px = [(11, 82), (88, 160), (166, 239), (243, 315)]
rows_px = [(12, 80), (83, 152), (156, 225), (229, 298)]
col_ranges = [[-11, 41.3], [-3.4, 9.1], [-0.45, 11.9], [-0.8, 11.75]]
row_ranges = [[-11, 41.3], [-3.3, 9.4], [-0.74, 12.1], [-0.7, 11.8]]

for i in range(4):
    for j in range(4):
        box = (cols_px[j][0], cols_px[j][1], rows_px[i][0], rows_px[i][1])
        xlab = i == 3
        ylab = j == 0
        if i == j:
            cnt = hist_counts[i]
            if i == 0:
                yr, yt = [-1.4, 39.9], hist_row1_ticks
            else:
                m = max(cnt)
                yr, yt = [-0.05 * m, 1.05 * m], [0, 5, 10, 15]
            xa, ya = add_panel(box, col_ranges[j], yr, pair_ticks[j], yt, xlab, ylab)
            add(go.Bar(x=hist_centers[i], y=cnt, width=bin_widths[i],
                       marker=dict(color="#595959", line=dict(width=0))), xa, ya)
        elif i > j:
            xa, ya = add_panel(box, col_ranges[j], row_ranges[i], pair_ticks[j], pair_ticks[i], xlab, ylab)
            xs, yh, lo, hi = fit_band(pair_data[j], pair_data[i])
            add(go.Scatter(x=pair_data[j], y=pair_data[i], mode="markers",
                           marker=dict(size=2.8, color="#0000FF")), xa, ya)
            add(go.Scatter(x=list(xs) + list(xs[::-1]), y=list(hi) + list(lo[::-1]),
                           fill="toself", fillcolor="rgba(153,153,153,0.55)", mode="lines",
                           line=dict(width=0)), xa, ya)
            add(go.Scatter(x=xs, y=yh, mode="lines", line=dict(color="#000000", width=1.6)), xa, ya)
        else:
            xa, ya = add_panel(box, col_ranges[j], row_ranges[i], pair_ticks[j], pair_ticks[i],
                               False, False, bg="#FFFFFF", grid="#D6D6D6", mgrid="#E8E8E8")
            k = corr_cells.index((i, j))
            note("Corr:<br>" + corr_labels[k], (box[0] + box[1]) / 2, (box[2] + box[3]) / 2,
                 size=8.5, color="#1A1A1A")

for j, (x0, x1) in enumerate(cols_px):
    shapes.append(dict(type="rect", xref="paper", yref="paper", x0=X(x0), x1=X(x1),
                       y0=Y(12), y1=Y(1), fillcolor="#D9D9D9", line=dict(width=0)))
    note(pair_vars[j], (x0 + x1) / 2, 6.6, size=6.5, color="#1A1A1A")
for i, (y0, y1) in enumerate(rows_px):
    shapes.append(dict(type="rect", xref="paper", yref="paper", x0=X(317), x1=X(328),
                       y0=Y(y1), y1=Y(y0), fillcolor="#D9D9D9", line=dict(width=0)))
    note(pair_vars[i], 322.6, (y0 + y1) / 2, size=6.5, color="#1A1A1A", angle=90)


# ---------------- diagnostics ----------------
def resid_plot(box, xr, yr, xt, yt, fx, ry, sx, sy, lx, ly, lt):
    xa, ya = add_panel(box, xr, yr, xt, yt)
    add(go.Scatter(x=fx, y=ry, mode="markers", marker=dict(size=4, color=PT)), xa, ya)
    add(go.Scatter(x=sx, y=sy, mode="lines", line=dict(color="#6E6E6E", width=1, dash=SHORT_DASH)), xa, ya)
    shapes.append(dict(type="line", xref=xa + " domain", yref=ya, x0=0, x1=1, y0=0, y1=0,
                       line=dict(color=BLUE_LINE, width=1, dash=SHORT_DASH)))
    add(go.Scatter(x=lx, y=ly, mode="markers+text", text=lt, textposition="middle center",
                   marker=dict(size=4, color=PT), cliponaxis=False,
                   textfont=dict(family=SANS, size=6.3, color=LAB)), xa, ya)


def qq_plot(box, xr, yr, xt, yt, sample, line, lidx, ltext):
    xa, ya = add_panel(box, xr, yr, xt, yt)
    lx = [xr[0], xr[1]]
    add(go.Scatter(x=lx, y=[line[0] * v + line[1] for v in lx], mode="lines",
                   line=dict(color=BLUE_LINE, width=1, dash=SHORT_DASH)), xa, ya)
    add(go.Scatter(x=qq_theoretical, y=sample, mode="markers", marker=dict(size=3.5, color=PT)), xa, ya)
    add(go.Scatter(x=[qq_theoretical[k] for k in lidx], y=[sample[k] for k in lidx],
                   mode="text", text=ltext, textposition="middle center", cliponaxis=False,
                   textfont=dict(family=SANS, size=6.5, color=LAB)), xa, ya)


def cook_plot(box, xr, yr, yt, ytext, vals, labs):
    xa, ya = add_panel(box, xr, yr, [0, 50, 100, 150, 200], yt, ytext=ytext)
    add(go.Bar(x=obs_number, y=vals, width=0.8, marker=dict(color=COOK, line=dict(width=0))), xa, ya)
    pos = ["middle left" if (k == 1 and 2 in labs) else "middle center" for k in labs]
    add(go.Scatter(x=labs, y=[vals[k - 1] for k in labs], mode="text",
                   text=[str(k) for k in labs], textposition=pos, cliponaxis=False,
                   textfont=dict(family=SANS, size=6.5, color=LAB)), xa, ya)


def titles(px_left, res_y, qq_y, cook_x, cook_y, ylab_x, res_c, qq_c, cook_c, xcen, xres_y, xqq_y, xcook_y, cook_xcen):
    note("Residuals vs Fitted", px_left, res_y, size=8, xanchor="left")
    note("Normal Q-Q", px_left, qq_y, size=8, xanchor="left")
    note("Cook's distance", cook_x, cook_y, size=8, xanchor="left")
    note("Residuals", ylab_x, res_c, size=7, angle=-90)
    note("Standardized residuals", ylab_x, qq_c, size=7, angle=-90)
    note("Cook's distance", ylab_x, cook_c, size=7, angle=-90)
    note("Fitted values", xcen, xres_y, size=7)
    note("Theoretical Quantiles", xcen, xqq_y, size=7)
    note("Obs. Number", cook_xcen, xcook_y, size=7)


# top right: cases per million
resid_plot((392, 700, 13, 80), [-0.24, 6.46], [-5.6, 6.2], [0, 2, 4, 6], [-3, 0, 3, 6],
           fitted_cpm, resid_cpm, smooth_cpm_x, smooth_cpm_y, label_cpm_x, label_cpm_y, label_cpm_text)
qq_plot((393, 700, 115, 186), [-3.06, 3.08], [-2.6, 2.85], [-3, -2, -1, 0, 1, 2, 3], [-2, -1, 0, 1, 2],
        qq_cpm, qq_line_cpm, qq_label_idx_cpm, qq_label_text_cpm)
cook_plot((398, 700, 223, 289), [-8.6, 208.6], [-0.0072, 0.1134], [0, 0.03, 0.06, 0.09],
          ["0.00", "0.03", "0.06", "0.09"], cook_cpm, cook_labels_cpm)
titles(391, 7, 109, 397, 215, 377, 47, 152, 256, 546, 97, 201, 303, 549)

# bottom left: total cases
resid_plot((25, 332, 337, 406), [0.88, 8.5], [-7.0, 6.8], [2, 4, 6, 8], [-6, -3, 0, 3, 6],
           fitted_total, resid_total, smooth_total_x, smooth_total_y, label_total_x, label_total_y, label_total_text)
qq_plot((25, 332, 442, 511), [-3.04, 3.1], [-3.26, 2.9], [-3, -2, -1, 0, 1, 2, 3], [-3, -2, -1, 0, 1, 2],
        qq_total, qq_line_total, qq_label_idx_total, qq_label_text_total)
cook_plot((32, 332, 547, 615), [-6.4, 208], [-0.0083, 0.18], [0, 0.05, 0.10, 0.15],
          ["0.00", "0.05", "0.10", "0.15"], cook_total, cook_labels_total)
titles(23, 331, 435, 29, 539, 8, 372, 476, 582, 177, 421, 525, 629, 180)

# bottom right: active cases
resid_plot((393, 700, 338, 407), [0.8, 8.3], [-7.2, 6.6], [2, 4, 6, 8], [-6, -3, 0, 3, 6],
           fitted_active, resid_active, smooth_active_x, smooth_active_y, label_active_x, label_active_y, label_active_text)
qq_plot((393, 700, 442, 512), [-3.05, 3.08], [-3.36, 2.89], [-3, -2, -1, 0, 1, 2, 3], [-3, -2, -1, 0, 1, 2],
        qq_active, qq_line_active, qq_label_idx_total, qq_label_text_total)
cook_plot((403, 700, 547, 615), [-5, 208], [-0.0094, 0.203], [0, 0.05, 0.10, 0.15, 0.20],
          ["0.00", "0.05", "0.10", "0.15", "0.20"], cook_active, cook_labels_active)
titles(391, 332, 435, 397, 539, 375, 372, 477, 584, 545, 421, 526, 630, 549)

# captions
note("Total Caese versus Temperature", 183, 644, size=9.5, color="#222222", family=CAPF)
note("Active Caese versus Temperature", 540, 647, size=9.5, color="#222222", family=CAPF)
note("Cases per million versus Temperatre", 715, 153, size=9.2, color="#222222", angle=-90, family=CAPF)

fig.update_layout(width=W, height=H, margin=dict(l=0, r=0, t=0, b=0),
                  paper_bgcolor="#FFFFFF", plot_bgcolor="rgba(0,0,0,0)",
                  showlegend=False, shapes=shapes, annotations=annotations,
                  font=dict(family=SANS), **layout)
fig.write_html("out.html", config={"displayModeBar": False},
               post_script="document.body.style.margin='0';")
